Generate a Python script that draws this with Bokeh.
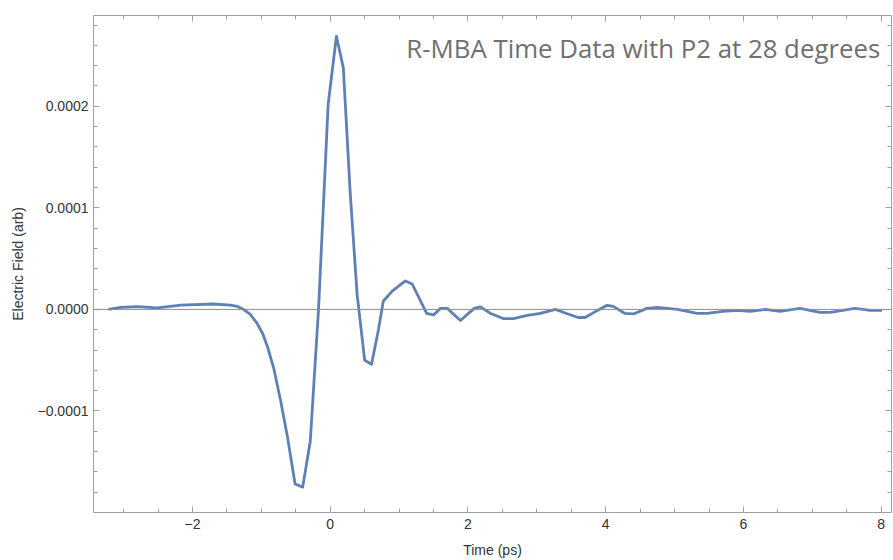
from bokeh.plotting import figure
from bokeh.models import (FixedTicker, LinearAxis, Span, Label, CustomJSTickFormatter,
                          Range1d, ColumnDataSource)
from bokeh.embed import file_html
from bokeh.resources import INLINE

# ---- data ----
time_ps = [-3.22, -3.04, -2.80, -2.51, -2.17, -1.70, -1.45, -1.35, -1.26, -1.16,
           -1.06, -0.98, -0.91, -0.82, -0.72, -0.62, -0.51, -0.40, -0.29, -0.17,
           -0.03, 0.09, 0.19, 0.29, 0.39, 0.50, 0.60, 0.70, 0.77, 0.90,
           1.09, 1.19, 1.40, 1.50, 1.60, 1.70, 1.89, 2.09, 2.18, 2.33,
           2.51, 2.66, 2.86, 3.05, 3.27, 3.43, 3.60, 3.70, 3.88, 4.02,
           4.11, 4.28, 4.40, 4.60, 4.75, 5.04, 5.33, 5.47, 5.70, 5.91,
           6.10, 6.32, 6.53, 6.82, 7.11, 7.26, 7.62, 7.84, 8.01]
field_arb = [0.0, 2.0e-6, 2.7e-6, 1.5e-6, 4.3e-6, 5.3e-6, 4.2e-6, 3.0e-6, 0.0, -5.0e-6,
             -1.4e-5, -2.4e-5, -3.7e-5, -5.8e-5, -9.0e-5, -1.26e-4, -1.72e-4, -1.75e-4, -1.30e-4, 0.0,
             2.02e-4, 2.69e-4, 2.38e-4, 1.15e-4, 1.5e-5, -5.0e-5, -5.4e-5, -2.0e-5, 8.0e-6, 1.8e-5,
             2.8e-5, 2.5e-5, -4.0e-6, -5.5e-6, 1.0e-6, 1.0e-6, -1.1e-5, 1.0e-6, 2.5e-6, -4.0e-6,
             -9.0e-6, -9.0e-6, -6.0e-6, -4.0e-6, 0.0, -4.0e-6, -8.0e-6, -8.0e-6, -1.0e-6, 4.0e-6,
             3.0e-6, -4.0e-6, -4.5e-6, 1.0e-6, 2.0e-6, 0.0, -4.0e-6, -4.0e-6, -2.0e-6, -1.0e-6,
             -2.0e-6, 0.0, -2.0e-6, 1.0e-6, -3.0e-6, -3.0e-6, 1.0e-6, -1.0e-6, -1.0e-6]

x_major_ticks = [-2, 0, 2, 4, 6, 8]
x_minor_ticks = [-3.0, -2.5, -1.5, -1.0, -0.5, 0.5, 1.0, 1.5, 2.5, 3.0, 3.5, 4.5, 5.0,
                 5.5, 6.5, 7.0, 7.5]
y_major_ticks = [-0.0001, 0.0, 0.0001, 0.0002]
y_minor_ticks = [-0.00018, -0.00016, -0.00014, -0.00012, -0.00008, -0.00006, -0.00004,
                 -0.00002, 0.00002, 0.00004, 0.00006, 0.00008, 0.00012, 0.00014,
                 0.00016, 0.00018, 0.00022, 0.00024, 0.00026, 0.00028]

title_text = "R-MBA Time Data with P2 at 28 degrees"
x_label = "Time (ps)"
y_label = "Electric Field (arb)"

# ---- figure ----
p = figure(width=893, height=560, output_backend="svg", toolbar_location=None,
           x_range=Range1d(-3.437, 8.149), y_range=Range1d(-0.0002, 0.0002894),
           x_axis_location=None, y_axis_location=None,
           min_border_left=93, min_border_right=2, min_border_top=15, min_border_bottom=48)
p.outline_line_color = None
p.xgrid.visible = False
p.ygrid.visible = False
p.background_fill_color = "white"

xticker = FixedTicker(ticks=x_major_ticks, minor_ticks=x_minor_ticks)
yticker = FixedTicker(ticks=y_major_ticks, minor_ticks=y_minor_ticks)

x_fmt = CustomJSTickFormatter(code="return (tick < 0 ? '\u2212' : '') + Math.abs(tick).toFixed(0);")
y_fmt = CustomJSTickFormatter(code="return (tick < -1e-12 ? '\u2212' : '') + Math.abs(tick).toFixed(4);")
blank = CustomJSTickFormatter(code="return '';")

frame_col = "#a0a0a0"
label_font = "Liberation Sans"

def style(ax, labels=True):
    ax.axis_line_color = frame_col
    ax.axis_line_width = 1
    ax.major_tick_line_color = frame_col
    ax.minor_tick_line_color = frame_col
    ax.major_tick_in = 6
    ax.major_tick_out = 0
    ax.minor_tick_in = 4
    ax.minor_tick_out = 0
    if labels:
        ax.major_label_text_font = label_font
        ax.major_label_text_font_size = "14px"
        ax.major_label_text_color = "#333333"
        ax.axis_label_text_font = label_font
        ax.axis_label_text_font_size = "14px"
        ax.axis_label_text_font_style = "normal"
        ax.axis_label_text_color = "#333333"
    else:
        ax.major_label_text_font_size = "0px"
        ax.major_label_standoff = 0

bottom = LinearAxis(ticker=xticker, formatter=x_fmt, axis_label=x_label)
style(bottom)
bottom.major_label_standoff = 6
bottom.axis_label_standoff = 10
p.add_layout(bottom, "below")

left = LinearAxis(ticker=yticker, formatter=y_fmt, axis_label=y_label)
style(left)
left.major_label_standoff = 5
left.axis_label_standoff = 9
p.add_layout(left, "left")

top = LinearAxis(ticker=xticker, formatter=blank)
style(top, labels=False)
p.add_layout(top, "above")

right = LinearAxis(ticker=yticker, formatter=blank)
style(right, labels=False)
p.add_layout(right, "right")

p.add_layout(Span(location=0, dimension="width", line_color="#8c8c8c", line_width=1))

src = ColumnDataSource(data=dict(t=time_ps, e=field_arb))
p.line("t", "e", source=src, line_color="#5E81B5", line_width=2.8, line_join="round")

p.add_layout(Label(x=7.985, y=0.000257, text=title_text, text_align="right",
                   text_baseline="middle", text_font="Open Sans", text_font_size="25.8px",
                   text_color="#707070"))

open("out.html", "w").write(file_html(p, INLINE))
